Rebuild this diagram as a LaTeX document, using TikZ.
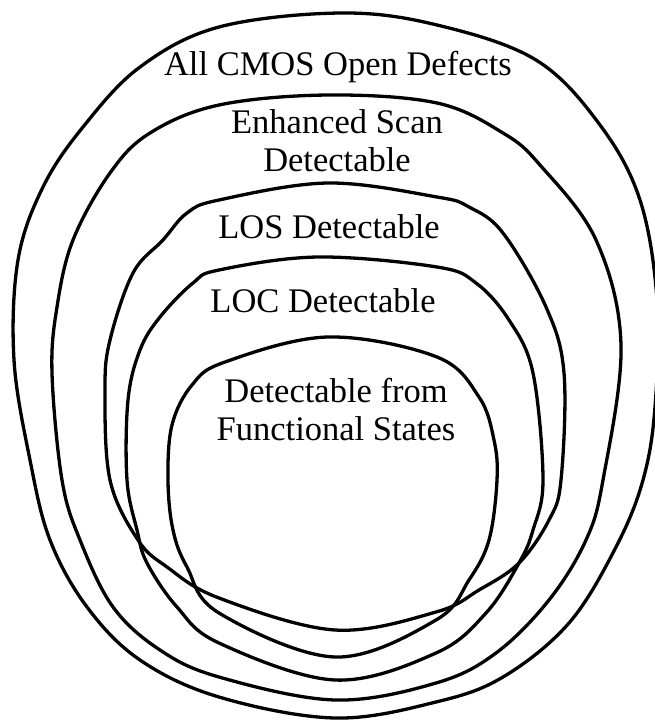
\documentclass[tikz,border=0pt]{standalone}
\usepackage{fontspec}
\setmainfont{Liberation Serif}
\begin{document}
\begin{tikzpicture}[x=1pt,y=-1pt,
  region/.style={draw=black,line width=3.3pt,line join=round},
  label/.style={font=\fontsize{34.5}{38}\selectfont,align=center,inner sep=0pt,anchor=base}]
\useasboundingbox (0,0) rectangle (655,721);

% All CMOS open defects
\draw[region] plot[smooth cycle,tension=0.6] coordinates {
  (341,13) (437,25) (536,60) (600,125) (640,200) (657,300) (655,407)
  (643,480) (616,547) (569,623) (503,677) (436,702) (335,718) (219,697)
  (140,660) (87,607) (50,540) (30,460) (14,360) (18,260) (43,187)
  (83,127) (140,67) (219,27)};

% Enhanced scan detectable
\draw[region] plot[smooth cycle,tension=0.6] coordinates {
  (328,95) (437,103) (503,133) (540,165) (596,240) (621,345) (603,480)
  (586,540) (549,600) (496,653) (436,683) (335,700) (219,677) (160,650)
  (113,607) (80,540) (62,480) (52,373) (57,307) (73,240) (110,173) (150,133)
  (219,105)};

% LOS detectable
\draw[region] plot[smooth cycle,tension=0.6] coordinates {
  (328,183) (437,197) (469,207) (503,233) (546,307) (564,373) (561,480)
  (549,520) (519,563) (479,590) (436,612) (335,630) (219,598) (167,567)
  (138,540) (110,480) (105,390) (110,340) (133,273) (163,240) (187,213)
  (219,200)};

% LOC detectable
\draw[region] plot[smooth cycle,tension=0.6] coordinates {
  (318,257) (437,267) (476,283) (509,320) (533,373) (543,480) (533,530)
  (519,563) (486,613) (436,653) (335,680) (219,643) (177,607) (147,563)
  (137,530) (127,480) (128,400) (140,350) (160,317) (193,283) (219,270)};

% Detectable from functional states
\draw[region] plot[smooth cycle,tension=0.6] coordinates {
  (328,337) (437,357) (479,397) (494,440) (497,480) (489,540) (469,580)
  (436,620) (335,657) (219,613) (187,567) (173,530) (168,480) (172,425)
  (192,385) (225,362)};

% labels (a two-line node sits on the baseline of its last line)
\node[label] (tall) at (338,75) {All CMOS Open Defects};
\node[label] (tes) at (337,171) {Enhanced Scan\\Detectable};
\node[label] (tlos) at (329,238) {LOS Detectable};
\node[label] (tloc) at (323,312) {LOC Detectable};
\node[label] (tfs) at (336,440) {Detectable from\\Functional States};
\end{tikzpicture}
\end{document}
